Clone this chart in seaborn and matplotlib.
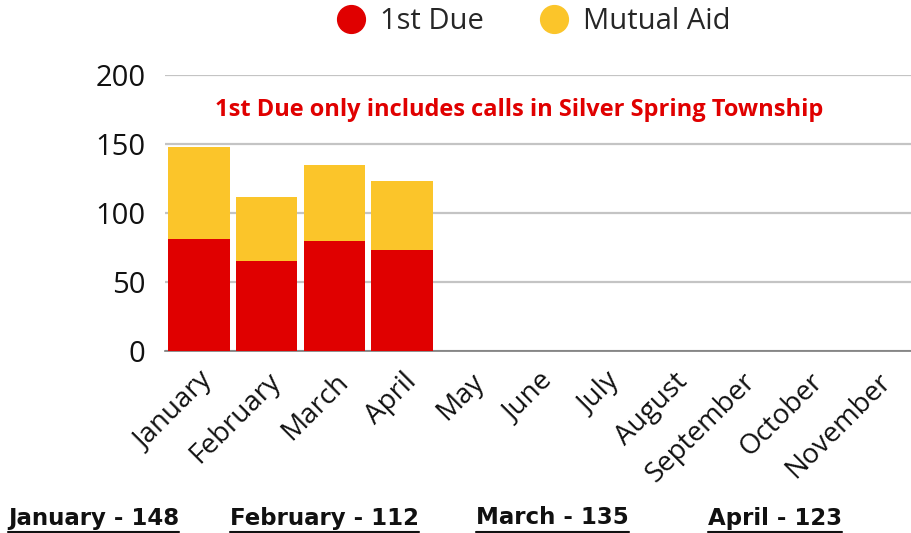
import pandas as pd
import numpy as np
import matplotlib
matplotlib.use("Agg")
import matplotlib.pyplot as plt
from matplotlib.lines import Line2D
import seaborn as sns

# data
months = ['January', 'February', 'March', 'April', 'May', 'June', 'July',
          'August', 'September', 'October', 'November']
first_due = [81, 65, 80, 73, np.nan, np.nan, np.nan, np.nan, np.nan, np.nan, np.nan]
mutual_aid = [67, 47, 55, 50, np.nan, np.nan, np.nan, np.nan, np.nan, np.nan, np.nan]
summary = ['January - 148', 'February - 112', 'March - 135', 'April - 123']

RED = '#e00000'
YELLOW = '#fbc52a'

df = pd.DataFrame({'month': months, 'first_due': first_due, 'mutual_aid': mutual_aid})
df['total'] = df['first_due'] + df['mutual_aid']

sns.set_style('white')
plt.rcParams['font.family'] = ['Open Sans', 'DejaVu Sans']

fig = plt.figure(figsize=(9.11, 5.33), dpi=100)
ax = fig.add_axes([0.181, 0.3415, 0.819, 0.5175])

# stacked: total in yellow, first due in red on top of it
sns.barplot(data=df, x='month', y='total', order=months, color=YELLOW,
            width=0.91, saturation=1, linewidth=0, ax=ax, zorder=3)
sns.barplot(data=df, x='month', y='first_due', order=months, color=RED,
            width=0.91, saturation=1, linewidth=0, ax=ax, zorder=4)

ax.set_ylim(0, 200)
ax.set_xlim(-0.5, len(months) - 0.5)
ax.set_yticks([0, 50, 100, 150, 200])
ax.yaxis.grid(True, color='#c4c4c4', lw=1.6, zorder=0)
ax.set_axisbelow(True)
for s in ['top', 'right', 'left']:
    ax.spines[s].set_visible(False)
ax.spines['bottom'].set_color('#7a7a7a')
ax.spines['bottom'].set_linewidth(1.2)
ax.set_xlabel('')
ax.set_ylabel('')
ax.tick_params(axis='y', labelsize=21, length=0, pad=14, colors='#111111')
ax.tick_params(axis='x', labelsize=20, length=0, pad=12, colors='#111111')
plt.setp(ax.get_xticklabels(), rotation=45, ha='right', rotation_mode='anchor')

ax.text(0.475, 0.875, '1st Due only includes calls in Silver Spring Township',
        transform=ax.transAxes, ha='center', va='center', color=RED,
        fontsize=17, fontweight='bold')

handles = [Line2D([], [], marker='o', ls='', markersize=20, color=RED),
           Line2D([], [], marker='o', ls='', markersize=20, color=YELLOW)]
fig.legend(handles, ['1st Due', 'Mutual Aid'], loc='center', ncol=2,
           bbox_to_anchor=(0.5856, 0.959), frameon=False, fontsize=21,
           handlelength=1.0, handletextpad=0.5, columnspacing=1.9,
           borderaxespad=0)

# monthly totals underneath, underlined
xs = [8, 230, 476, 708]
fig.canvas.draw()
renderer = fig.canvas.get_renderer()
for x, s in zip(xs, summary):
    t = fig.text(x / 911, 1 - 518 / 533, s, ha='left', va='center',
                 fontsize=16.5, fontweight='bold', color='#111111',
                 family=['Liberation Sans Narrow', 'DejaVu Sans'])
    bb = t.get_window_extent(renderer=renderer).transformed(fig.transFigure.inverted())
    fig.add_artist(Line2D([bb.x0, bb.x1], [bb.y0 - 0.004, bb.y0 - 0.004],
                          transform=fig.transFigure, color='#111111', lw=1.5))

fig.savefig('out.png', dpi=100)
